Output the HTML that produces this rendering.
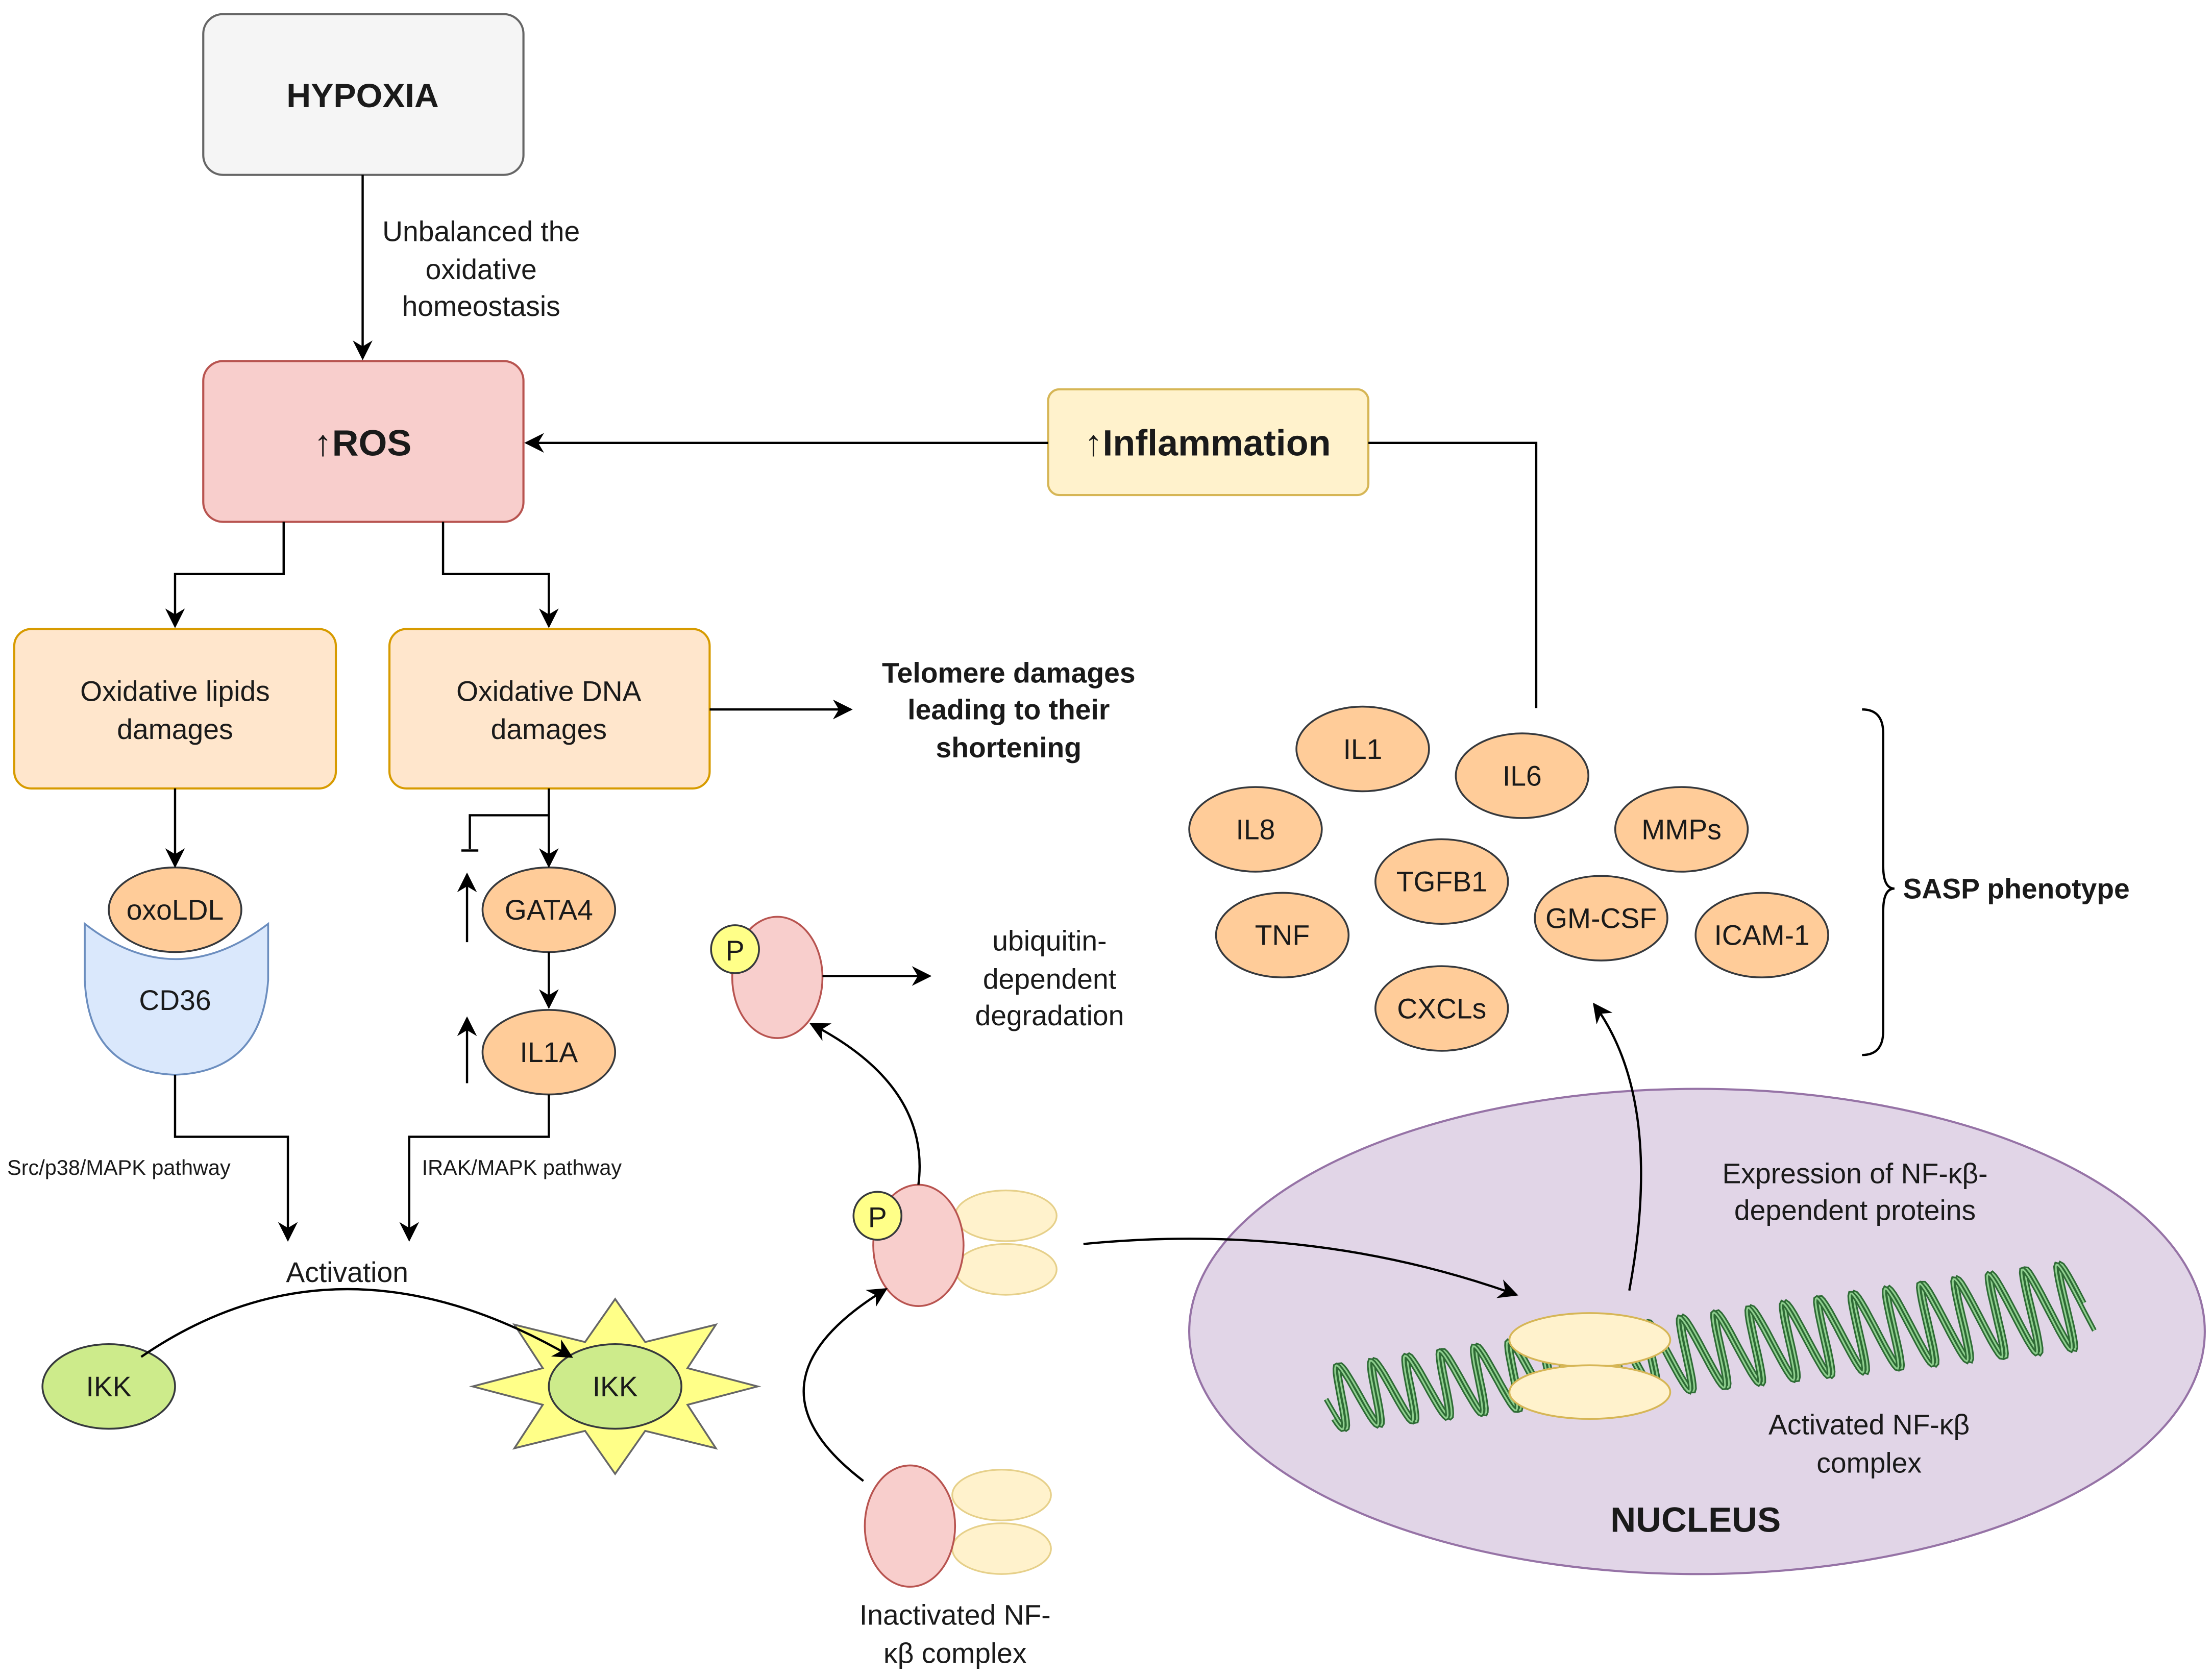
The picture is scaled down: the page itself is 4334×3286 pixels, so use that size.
<!DOCTYPE html>
<html><head><meta charset="utf-8"><style>
html,body{margin:0;padding:0;background:#fff;}
svg{display:block;}
text{font-family:"Liberation Sans",Arial,sans-serif;fill:#1a1a1a;}
</style></head><body>
<svg id="s" width="4334" height="3286" viewBox="0 0 1568 1189" xmlns="http://www.w3.org/2000/svg">
<defs>
<marker id="b" viewBox="0 0 10 10" refX="9" refY="5" markerWidth="14" markerHeight="14" orient="auto" markerUnits="userSpaceOnUse">
<path d="M0,0 L10,5 L0,10 L3,5 Z" fill="#000"/></marker>
</defs>
<rect width="1568" height="1189" fill="#fff"/>
<rect x="144" y="10" width="227" height="114" rx="14" fill="#f5f5f5" stroke="#666" stroke-width="1.5"/>
<text x="257" y="76" font-size="24" font-weight="bold" text-anchor="middle">HYPOXIA</text>
<g font-size="20" text-anchor="middle">
<text x="341" y="171">Unbalanced the</text><text x="341" y="198">oxidative</text><text x="341" y="224">homeostasis</text>
</g>
<rect x="144" y="256" width="227" height="114" rx="14" fill="#f8cecc" stroke="#b85450" stroke-width="1.5"/>
<text x="257" y="323" font-size="26" font-weight="bold" text-anchor="middle">↑ROS</text>
<rect x="743" y="276" width="227" height="75" rx="8" fill="#fff2cc" stroke="#d6b656" stroke-width="1.5"/>
<text x="856" y="323" font-size="26" font-weight="bold" text-anchor="middle">↑Inflammation</text>
<rect x="10" y="446" width="228" height="113" rx="12" fill="#ffe6cc" stroke="#d79b00" stroke-width="1.5"/>
<rect x="276" y="446" width="227" height="113" rx="12" fill="#ffe6cc" stroke="#d79b00" stroke-width="1.5"/>
<g font-size="20" text-anchor="middle">
<text x="124" y="497">Oxidative lipids</text><text x="124" y="524">damages</text>
<text x="389" y="497">Oxidative DNA</text><text x="389" y="524">damages</text>
</g>
<g font-size="20" font-weight="bold" text-anchor="middle">
<text x="715" y="484">Telomere damages</text><text x="715" y="510">leading to their</text><text x="715" y="537">shortening</text>
</g>
<path d="M60,655 Q124,705 190,655 L190,695 Q185,760 124,762 Q63,760 60,695 Z" fill="#dae8fc" stroke="#6c8ebf" stroke-width="1.3"/>
<text x="124" y="716" font-size="20" text-anchor="middle">CD36</text>
<g stroke="#36393d" stroke-width="1.3" fill="#ffcc99">
<ellipse cx="124" cy="645" rx="47" ry="30"/>
<ellipse cx="389" cy="645" rx="47" ry="30"/>
<ellipse cx="389" cy="746" rx="47" ry="30"/>
</g>
<g font-size="20" text-anchor="middle">
<text x="124" y="652">oxoLDL</text><text x="389" y="652">GATA4</text><text x="389" y="753">IL1A</text>
</g>
<g font-size="15">
<text x="5" y="833">Src/p38/MAPK pathway</text><text x="299" y="833">IRAK/MAPK pathway</text>
</g>
<text x="246" y="909" font-size="20" text-anchor="middle">Activation</text>
<polygon id="star" fill="#ffff88" stroke="#666" stroke-width="1.3"/>
<g fill="#cdeb8b" stroke="#36393d" stroke-width="1.3">
<ellipse cx="77" cy="983" rx="47" ry="30"/>
<ellipse cx="436" cy="983" rx="47" ry="30"/>
</g>
<text x="77" y="990" font-size="20" text-anchor="middle">IKK</text>
<text x="436" y="990" font-size="20" text-anchor="middle">IKK</text>
<g fill="#fff2cc" stroke="#e6d08a" stroke-width="1.2">
<ellipse cx="710" cy="1060" rx="35" ry="18"/><ellipse cx="710" cy="1098" rx="35" ry="18"/>
<ellipse cx="713" cy="862" rx="36" ry="18"/><ellipse cx="713" cy="900" rx="36" ry="18"/>
</g>
<g fill="#f8cecc" stroke="#b85450" stroke-width="1.3">
<ellipse cx="645" cy="1082" rx="32" ry="43"/>
<ellipse cx="651" cy="883" rx="32" ry="43"/>
<ellipse cx="551" cy="693" rx="32" ry="43"/>
</g>
<g fill="#ffff88" stroke="#36393d" stroke-width="1.3">
<circle cx="622" cy="862" r="17"/><circle cx="521" cy="673" r="17"/>
</g>
<text x="622" y="870" font-size="20" text-anchor="middle">P</text>
<text x="521" y="681" font-size="20" text-anchor="middle">P</text>
<g font-size="20" text-anchor="middle">
<text x="744" y="674">ubiquitin-</text><text x="744" y="701">dependent</text><text x="744" y="727">degradation</text>
<text x="677" y="1152">Inactivated NF-</text><text x="677" y="1179">κβ complex</text>
</g>
<ellipse cx="1203" cy="944" rx="360" ry="172" fill="#e1d5e7" stroke="#9673a6" stroke-width="1.5"/>
<g font-size="20" text-anchor="middle">
<text x="1315" y="839">Expression of NF-κβ-</text><text x="1315" y="865">dependent proteins</text>
<text x="1325" y="1017">Activated NF-κβ</text><text x="1325" y="1044">complex</text>
</g>
<text x="1202" y="1086" font-size="25" font-weight="bold" text-anchor="middle">NUCLEUS</text>
<g id="helix" fill="none"></g>
<g fill="#fff2cc" stroke="#d6b656" stroke-width="1.3">
<ellipse cx="1127" cy="950" rx="57" ry="19"/><ellipse cx="1127" cy="987" rx="57" ry="19"/>
</g>
<g fill="#ffcc99" stroke="#36393d" stroke-width="1.3">
<ellipse cx="966" cy="531" rx="47" ry="30"/><ellipse cx="1079" cy="550" rx="47" ry="30"/>
<ellipse cx="890" cy="588" rx="47" ry="30"/><ellipse cx="1192" cy="588" rx="47" ry="30"/>
<ellipse cx="1022" cy="625" rx="47" ry="30"/><ellipse cx="1135" cy="651" rx="47" ry="30"/>
<ellipse cx="1249" cy="663" rx="47" ry="30"/><ellipse cx="909" cy="663" rx="47" ry="30"/>
<ellipse cx="1022" cy="715" rx="47" ry="30"/>
</g>
<g font-size="20" text-anchor="middle">
<text x="966" y="538">IL1</text><text x="1079" y="557">IL6</text><text x="890" y="595">IL8</text>
<text x="1192" y="595">MMPs</text><text x="1022" y="632">TGFB1</text><text x="1135" y="658">GM-CSF</text>
<text x="1249" y="670">ICAM-1</text><text x="909" y="670">TNF</text><text x="1022" y="722">CXCLs</text>
</g>
<text x="1349" y="637" font-size="20" font-weight="bold">SASP phenotype</text>
<g stroke="#000" stroke-width="1.6" fill="none">
<path d="M257,124 V254" marker-end="url(#b)"/>
<path d="M1089,502 V314 H970"/>
<path d="M743,314 H373" marker-end="url(#b)"/>
<path d="M201,370 V407 H124 V444" marker-end="url(#b)"/>
<path d="M314,370 V407 H389 V444" marker-end="url(#b)"/>
<path d="M503,503 H603" marker-end="url(#b)"/>
<path d="M124,559 V614" marker-end="url(#b)"/>
<path d="M389,559 V614" marker-end="url(#b)"/>
<path d="M389,578 H333 V602"/>
<path d="M327,603 H339"/>
<path d="M389,675 V714" marker-end="url(#b)"/>
<path d="M331,668 V620" marker-end="url(#b)"/>
<path d="M331,768 V722" marker-end="url(#b)"/>
<path d="M124,762 V806 H204 V879" marker-end="url(#b)"/>
<path d="M389,776 V806 H290 V879" marker-end="url(#b)"/>
<path d="M100,962 Q240,866 405,962" marker-end="url(#b)"/>
<path d="M612,1050 Q520,980 628,914" marker-end="url(#b)"/>
<path d="M651,840 Q660,770 575,726" marker-end="url(#b)"/>
<path d="M583,692 H659" marker-end="url(#b)"/>
<path d="M768,882 Q930,866 1075,918" marker-end="url(#b)"/>
<path d="M1155,915 Q1180,780 1130,712" marker-end="url(#b)"/>
<path d="M1320,503 Q1335,503 1335,520 V614 Q1335,630 1343,630 Q1335,630 1335,646 V731 Q1335,748 1320,748"/>
</g>
</svg>
<script>
(function(){
var ns="http://www.w3.org/2000/svg";
var pts=[],cx=436,cy=983,n=8;
for(var i=0;i<2*n;i++){var ang=Math.PI*i/n - Math.PI/2;var r=(i%2==0)?1:0.55;
pts.push((cx+Math.cos(ang)*101*r).toFixed(1)+","+(cy+Math.sin(ang)*62*r).toFixed(1));}
document.getElementById("star").setAttribute("points",pts.join(" "));
var g=document.getElementById("helix");
var x0=940,y0=992,x1=1478,y1=925,L=Math.hypot(x1-x0,y1-y0),ux=(x1-x0)/L,uy=(y1-y0)/L,nx=-uy,ny=ux;
function strand(ph,col,w){var d="";for(var t=0;t<=L;t+=1){var a=Math.sin(t/L*2*Math.PI*22+ph)*(22+8*t/L);
var x=x0+ux*t+nx*a+ a*0.25,y=y0+uy*t+ny*a;d+=(t?"L":"M")+x.toFixed(1)+","+y.toFixed(1);}
var p=document.createElementNS(ns,"path");p.setAttribute("d",d);p.setAttribute("stroke",col);p.setAttribute("stroke-width",w);g.appendChild(p);}
strand(0,"#2e6b35",3.5);strand(0,"#8fcf8f",1.2);strand(0.7,"#2e6b35",3.5);strand(0.7,"#8fcf8f",1.2);
})();
</script>
</body></html>
